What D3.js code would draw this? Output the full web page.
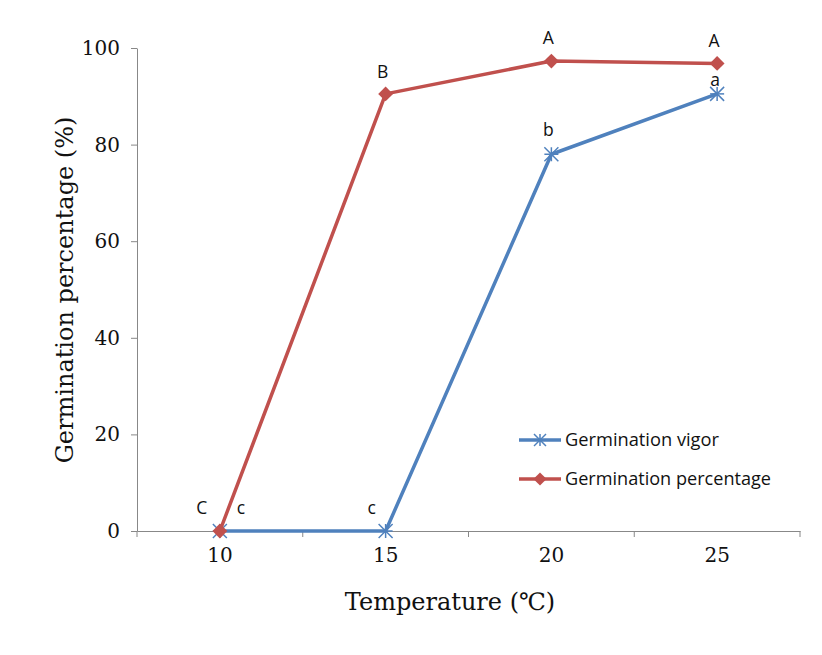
<!DOCTYPE html>
<html><head><meta charset="utf-8">
<script src="https://cdn.jsdelivr.net/npm/d3@7"></script>
<style>body{margin:0;background:#fff}</style>
</head><body>
<svg id="c" width="822" height="655"></svg>
<script>
const categories = ["10","15","20","25"];
const vigor = [0, 0, 78, 90.5];
const percentage = [0, 90.5, 97.3, 96.8];
const vigorLabels = ["c","c","b","a"];
const percLabels = ["C","B","A","A"];
const yTicks = [0,20,40,60,80,100];

const svg = d3.select("#c");
const m = {l:137, r:800, t:48, b:531};
const x = d3.scaleBand().domain(categories).range([m.l, m.r]);
const y = d3.scaleLinear().domain([0,100]).range([m.b, m.t]);
const cx = d => x(d) + x.bandwidth()/2;
const serif = "'DejaVu Serif','Liberation Serif',serif";
const sans = "'Open Sans','Noto Sans',sans-serif";

// y axis
const ya = svg.append("g").attr("transform",`translate(${m.l},0)`)
  .call(d3.axisLeft(y).tickValues(yTicks).tickSize(6).tickSizeOuter(0).tickPadding(11));
ya.select(".domain").attr("stroke","#888");
ya.selectAll(".tick line").attr("stroke","#888");
ya.selectAll("text").attr("font-family",serif).attr("font-size",20).attr("fill","#111");

// x axis
const xa = svg.append("g").attr("transform",`translate(0,${m.b})`)
  .call(d3.axisBottom(x).tickSize(0).tickPadding(17));
xa.select(".domain").attr("stroke","#888");
xa.selectAll("text").attr("font-family",serif).attr("font-size",20).attr("fill","#111");
const edges = categories.map(c=>x(c)).concat([m.r]);
xa.selectAll(".edge").data(edges).enter().append("line")
  .attr("x1",d=>d).attr("x2",d=>d).attr("y1",0).attr("y2",6).attr("stroke","#888");

// titles
svg.append("text").attr("x",450).attr("y",610).attr("text-anchor","middle")
  .attr("font-family",serif).attr("font-size",24).attr("fill","#111").text("Temperature (℃)");
svg.append("text").attr("transform","translate(73,290) rotate(-90)").attr("text-anchor","middle")
  .attr("font-family",serif).attr("font-size",24).attr("fill","#111").text("Germination percentage (%)");

const line = d3.line().x((d,i)=>cx(categories[i])).y(d=>y(d));
const red = "#C0504D", blue = "#4F81BD";

// blue series
svg.append("path").datum(vigor).attr("d",line).attr("fill","none").attr("stroke",blue).attr("stroke-width",3.5).attr("stroke-linejoin","round");
function star(g, px, py, s){
  const pts=[[0,-s],[0,s],[-s,-s],[s,s],[-s,s],[s,-s],[-s,0],[s,0]];
  for(let k=0;k<pts.length;k+=2){
    g.append("line").attr("x1",px+pts[k][0]).attr("y1",py+pts[k][1]).attr("x2",px+pts[k+1][0]).attr("y2",py+pts[k+1][1]).attr("stroke",blue).attr("stroke-width",1.5);
  }
}
vigor.forEach((v,i)=>star(svg, cx(categories[i]), y(v), 7));

// red series
svg.append("path").datum(percentage).attr("d",line).attr("fill","none").attr("stroke",red).attr("stroke-width",3.5).attr("stroke-linejoin","round");
svg.selectAll(".rd").data(percentage).enter().append("path")
  .attr("d",d3.symbol().type(d3.symbolDiamond2).size(140))
  .attr("transform",(d,i)=>`translate(${cx(categories[i])},${y(d)})`)
  .attr("fill",red);

// letters
const lf = 17.5;
const pOff = [[-18,-17],[-3,-16],[-3,-17],[-3,-16]];
percLabels.forEach((t,i)=>svg.append("text").attr("x",cx(categories[i])+pOff[i][0]).attr("y",y(percentage[i])+pOff[i][1])
  .attr("text-anchor","middle").attr("font-family",sans).attr("font-size",lf).attr("fill","#111").text(t));
const vOff = [[21,-17],[-14,-17],[-3,-18],[-2,-8]];
vigorLabels.forEach((t,i)=>svg.append("text").attr("x",cx(categories[i])+vOff[i][0]).attr("y",y(vigor[i])+vOff[i][1])
  .attr("text-anchor","middle").attr("font-family",sans).attr("font-size",lf).attr("fill","#111").text(t));

// legend
const lg = svg.append("g");
const items = [{name:"Germination vigor", c:blue, t:"star"},{name:"Germination percentage", c:red, t:"dia"}];
items.forEach((it,i)=>{
  const ly = 440 + i*39;
  lg.append("line").attr("x1",519).attr("x2",561).attr("y1",ly).attr("y2",ly).attr("stroke",it.c).attr("stroke-width",3.5);
  if(it.t==="star") star(lg,540,ly,6);
  else lg.append("path").attr("d",d3.symbol().type(d3.symbolDiamond2).size(110)).attr("transform",`translate(540,${ly})`).attr("fill",red);
  lg.append("text").attr("x",565).attr("y",ly+6).attr("font-family",sans).attr("font-size",17.3)
    .attr("textLength",206).attr("lengthAdjust","spacingAndGlyphs").attr("fill","#111")
    .attr("textLength", i===0 ? 154 : 206).text(it.name);
});
</script>
</body></html>
